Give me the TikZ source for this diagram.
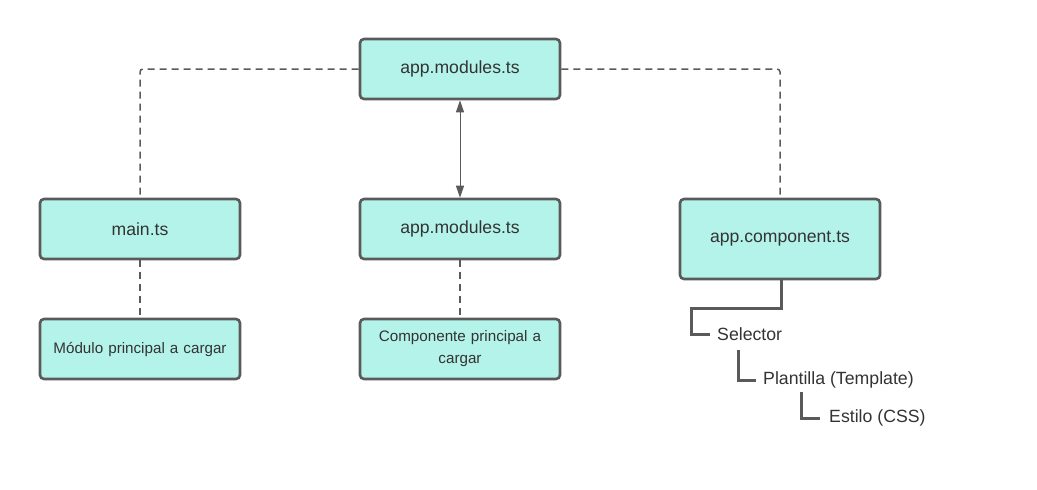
\documentclass[tikz,border=0pt]{standalone}
\usepackage{fontspec}
\setmainfont{Liberation Sans}
\usetikzlibrary{arrows.meta}
\definecolor{boxfill}{HTML}{B4F3EA}
\definecolor{boxline}{HTML}{5A5A5A}
\definecolor{txt}{HTML}{333333}
\tikzset{
  box/.style={draw=boxline, fill=boxfill, line width=2.6pt, rounded corners=4pt,
    minimum width=200pt, minimum height=60pt, text=txt, font=\fontsize{17.6}{20}\selectfont,
    align=center, inner sep=2pt},
  smallbox/.style={box, font=\fontsize{15.2}{22}\selectfont, text width=185pt},
  dashline/.style={draw=boxline, line width=1.5pt, dash pattern=on 7pt off 5pt, rounded corners=3pt},
  tree/.style={draw=boxline, line width=3pt},
  treetext/.style={anchor=west, text=txt, font=\fontsize{17.7}{20}\selectfont, inner sep=0pt},
}
\begin{document}
\begin{tikzpicture}[x=1pt, y=-1pt]
\useasboundingbox (0,0) rectangle (1037,490);
\node[box] (top) at (460,69) {app.modules.ts};
\node[box] (main) at (140,229) {main.ts};
\node[box] (mid) at (460,229) {app.modules.ts};
\node[box, minimum height=80pt] (comp) at (780,239) {app.component.ts};
\node[smallbox] (mod) at (140,349) {Módulo principal a cargar};
\node[smallbox] (cmp) at (460,349) {Componente principal a\\cargar};

\draw[dashline] (top.west) -| (main.north);
\draw[dashline] (top.east) -| (comp.north);
\draw[dashline] (main.south) -- (mod.north);
\draw[dashline] (mid.south) -- (cmp.north);
\draw[draw=boxline, line width=1pt, {Triangle[width=8pt,length=12pt]}-{Triangle[width=8pt,length=12pt]}] (top.south) -- (mid.north);

\node[treetext] (sel) at (717,334) {Selector};
\node[treetext] (pla) at (763,380) {Plantilla (Template)};
\node[treetext] (est) at (829,418) {Estilo (CSS)};
\coordinate (c1) at (691,308);
\coordinate (c2) at (738,350);
\coordinate (c3) at (801,392);
\draw[tree] ([xshift=1pt]comp.south) |- (c1) |- ([xshift=-7pt]sel.west);
\draw[tree] (c2) |- ([xshift=-7pt]pla.west);
\draw[tree] (c3) |- ([xshift=-9pt]est.west);
\end{tikzpicture}
\end{document}
